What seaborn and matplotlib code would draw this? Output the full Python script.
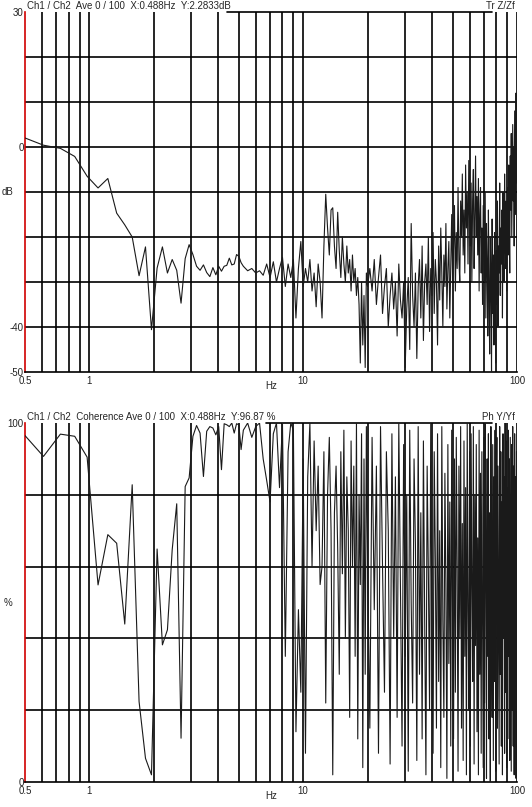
import numpy as np
import pandas as pd
import matplotlib
matplotlib.use("Agg")
import matplotlib.pyplot as plt
import seaborn as sns

# frequency grids (Hz): fine bins at the low end, coarser above 5 Hz
step_a, start_a = 0.122, 0.488
step_b, start_b = 0.25, 5.25
step_c, start_c = 0.5, 20.5

# transfer function magnitude (dB)
db_a = [2.2, 0.4, -0.3, -2.1, -6.5, -9.1, -7, -14.7, -17.3, -20,
        -28.6, -22.2, -40.6, -26.9, -22.2, -28, -25, -27.4, -34.7, -24.8,
        -21.7, -23.9, -26.5, -27.4, -26.2, -27.9, -28.8, -26.8, -28.4, -26.5,
        -27.6, -26.5, -26.3, -24.7, -26.2, -26, -23.9, -24.3, -25.7]
db_b = [-26.5, -27.5, -27, -28, -27.5, -28.5, -26, -29, -25.5, -30, -27, -24.5,
        -31, -26, -29, -25, -38, -27, -21, -31, -27, -30, -25, -32,
        -28, -35.5, -26, -30, -38, -22, -10.5, -18, -24, -14, -13.5, -22,
        -27, -14.5, -23, -29, -20, -26, -30, -22, -28, -25, -32, -24,
        -30, -27, -33, -29, -35, -48, -30, -44, -33, -49, -28, -31]
db_c = [-27, -32, -25, -35, -29, -24, -37, -31, -27, -40, -33, -28, -36, -30, -42, -26, -34, -38, -30, -49,
        -36, -29, -45, -17, -33, -40, -28, -47, -31, -25, -38, -22, -43, -30, -26, -35, -20, -41, -27, -33,
        -19, -37, -25, -30, -44, -22, -34, -18, -28, -40, -24, -31, -17, -36, -27, -21, -38, -26, -15, -30,
        -22, -13, -32, -19, -27, -9, -25, -30, -12, -20, -6, -24, -14, -28, -4, -18, -10, -26, -3, -16,
        -22, -8, -30, -12, -5, -27, -16, -2, -20, -11, -24, -7, -32, -15, -9, -28, -18, -35, -13, -21,
        -30, -10, -38, -17, -26, -42, -14, -33, -46, -20, -29, -50, -16, -37, -24, -44, -19, -31, -48, -23,
        -35, -12, -40, -22, -28, -8, -33, -18, -26, -14, -38, -10, -24, -30, -6, -20, -27, -12, -32, -16,
        -9, -24, -4, -18, -28, -2, -14, 3, -20, -6, 5, -12, 0, -22, 8, -4, -15, 12, -8, 10]

# coherence (%)
coh_a = [97.2, 90.7, 96.9, 96.3, 90.5, 54.9, 68.9, 66.5, 44, 82.8,
         22.4, 6.6, 2, 64.9, 38.2, 42.4, 64.7, 77.5, 12.2, 82.3,
         84.7, 96.3, 99.3, 97.2, 85.1, 97.7, 99, 98.6, 96.7, 99,
         87, 99.8, 99.5, 99, 100, 97.2, 99.8, 99.5, 92.6]
coh_b = [98, 100, 96, 99, 100, 90, 84, 78, 97, 100, 82, 100,
         35, 92, 100, 98, 14, 48, 25, 90, 8, 85, 100, 60,
         95, 70, 88, 55, 60, 92, 22, 80, 96, 70, 2, 75,
         88, 65, 30, 92, 58, 98, 40, 85, 70, 18, 95, 60,
         88, 35, 100, 12, 80, 55, 97, 4, 90, 30, 99, 62]
coh_c = [15, 96, 48, 88, 8, 99, 60, 25, 92, 70, 5, 97, 40, 85, 18, 100, 55, 10, 94, 35,
         80, 3, 98, 50, 22, 90, 66, 6, 99, 30, 75, 12, 95, 45, 2, 88, 58, 20, 100, 38,
         8, 92, 62, 15, 97, 28, 70, 4, 99, 45, 18, 86, 55, 1, 94, 33, 78, 10, 98, 42,
         12, 90, 25, 96, 60, 3, 88, 40, 99, 15, 72, 6, 95, 35, 82, 2, 100, 48, 20, 92,
         10, 97, 55, 28, 99, 5, 80, 38, 94, 14, 68, 2, 98, 30, 86, 8, 92, 50, 4, 96,
         22, 100, 60, 1, 90, 35, 97, 12, 75, 0, 99, 42, 18, 94, 6, 85, 28, 98, 3, 70,
         96, 15, 88, 45, 5, 99, 30, 92, 10, 78, 2, 97, 40, 85, 8, 100, 25, 95, 4, 82,
         12, 98, 35, 90, 6, 96, 50, 3, 94, 20, 99, 10, 88, 2, 97, 40, 85, 1, 92, 30]

freq = np.concatenate([start_a + step_a * np.arange(len(db_a)),
                       start_b + step_b * np.arange(len(db_b)),
                       start_c + step_c * np.arange(len(db_c))])
df = pd.DataFrame({"freq": freq, "db": db_a + db_b + db_c,
                   "coh": coh_a + coh_b + coh_c})

sns.set_style("white")
plt.rcParams['font.family'] = ['Liberation Sans', 'DejaVu Sans']

W, H = 532, 807
fig = plt.figure(figsize=(W / 100, H / 100), dpi=100)
ax1 = fig.add_axes([25 / W, 1 - 372 / H, 492 / W, 360 / H])
ax2 = fig.add_axes([25 / W, 1 - 782 / H, 492 / W, 359 / H])

vgrid = [0.6, 0.7, 0.8, 0.9, 1, 2, 3, 4, 5, 6, 7, 8, 9, 10,
         20, 30, 40, 50, 60, 70, 80, 90, 100]


def setup(ax, ylim, hgrid, yticks, ylabel, ylabel_pos, title, tag, line_start):
    ax.set_xscale("log")
    ax.set_xlim(0.5, 100)
    ax.set_ylim(*ylim)
    for x in vgrid:
        ax.axvline(x, color="black", lw=1.2, zorder=1)
    for y in hgrid:
        ax.axhline(y, color="black", lw=1.2, zorder=1)
    for s in ["top", "right"]:
        ax.spines[s].set_visible(False)
    ax.spines["left"].set_color("#d00000")
    ax.spines["left"].set_linewidth(1.2)
    ax.spines["bottom"].set_color("black")
    ax.spines["bottom"].set_linewidth(1.2)
    ax.plot([line_start, 0.95], [1, 1], transform=ax.transAxes,
            color="black", lw=1.2, clip_on=False)
    ax.set_yticks(yticks)
    ax.set_yticklabels([str(v) for v in yticks])
    ax.set_xticks([0.5, 1, 10, 100])
    ax.set_xticklabels(["0.5", "1", "10", "100"])
    ax.minorticks_off()
    ax.tick_params(length=0, labelsize=7, colors="#222222")
    ax.tick_params(axis="y", pad=1)
    ax.tick_params(axis="x", pad=3)
    ax.set_xlabel("")
    ax.set_ylabel("")
    ax.text(-0.035, ylabel_pos, ylabel, transform=ax.get_yaxis_transform(),
            fontsize=7, ha="center", va="center")
    ax.text(0.5, -0.04, "Hz", transform=ax.transAxes, fontsize=7,
            ha="center", va="center")
    ax.text(0.005, 1.002, title, transform=ax.transAxes, fontsize=7,
            ha="left", va="bottom")
    ax.text(0.995, 1.002, tag, transform=ax.transAxes, fontsize=7,
            ha="right", va="bottom")


sns.lineplot(data=df, x="freq", y="db", ax=ax1, color="#1a1a1a", lw=0.8,
             estimator=None, sort=False, zorder=3)
setup(ax1, (-50, 30), range(-40, 30, 10), [30, 0, -40, -50], "dB", -10,
      "Ch1 / Ch2  Ave 0 / 100  X:0.488Hz  Y:2.2833dB", "Tr Z/Zf", 0.41)

sns.lineplot(data=df, x="freq", y="coh", ax=ax2, color="#1a1a1a", lw=0.8,
             estimator=None, sort=False, zorder=3)
setup(ax2, (0, 100), range(20, 100, 20), [100, 0], "%", 50,
      "Ch1 / Ch2  Coherence Ave 0 / 100  X:0.488Hz  Y:96.87 %", "Ph Y/Yf", 0.49)

fig.savefig("out.png", dpi=100)
